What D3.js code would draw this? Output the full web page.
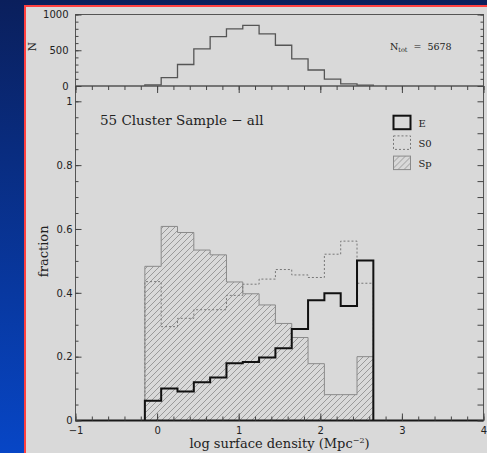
<!DOCTYPE html>
<html>
<head>
<meta charset="utf-8">
<script src="https://cdn.jsdelivr.net/npm/d3@7"></script>
<style>
body { margin: 0; background: #06205e; }
svg { display: block; }
</style>
</head>
<body>
<svg id="chart" width="487" height="453"></svg>
<script>
// bins in log surface density, width 0.2
var binEdges = [-0.15, 0.05, 0.25, 0.45, 0.65, 0.85, 1.05, 1.25, 1.45, 1.65, 1.85, 2.05, 2.25, 2.45, 2.65];
var nCounts = [16, 118, 301, 518, 690, 800, 847, 728, 570, 378, 224, 96, 30, 12];
var fracE = [0.062, 0.100, 0.091, 0.120, 0.135, 0.179, 0.183, 0.197, 0.226, 0.287, 0.377, 0.399, 0.359, 0.501];
var fracS0 = [0.435, 0.294, 0.320, 0.347, 0.347, 0.392, 0.427, 0.443, 0.473, 0.456, 0.448, 0.521, 0.562, 0.430];
var fracSp = [0.483, 0.608, 0.589, 0.534, 0.519, 0.434, 0.397, 0.362, 0.304, 0.260, 0.178, 0.081, 0.081, 0.200];
var xTicks = [-1, 0, 1, 2, 3, 4];
var nTicks = [0, 500, 1000];
var fracTicks = [0, 0.2, 0.4, 0.6, 0.8, 1];
var legendNames = ['E', 'S0', 'Sp'];
var nTotal = 5678;

var svg = d3.select('#chart');
var defs = svg.append('defs');

var grad = defs.append('linearGradient')
    .attr('id', 'bg')
    .attr('x1', 0).attr('y1', 0).attr('x2', 0).attr('y2', 1);
grad.append('stop').attr('offset', '0%').attr('stop-color', '#0a1f5c');
grad.append('stop').attr('offset', '100%').attr('stop-color', '#0746c6');

var hatch = defs.append('pattern')
    .attr('id', 'hatch')
    .attr('patternUnits', 'userSpaceOnUse')
    .attr('width', 6).attr('height', 6);
hatch.append('path')
    .attr('d', 'M0,6 L6,0 M-1,1 L1,-1 M5,7 L7,5')
    .attr('stroke', '#8a8a8a')
    .attr('stroke-width', 0.8);

svg.append('rect').attr('width', 487).attr('height', 453).attr('fill', 'url(#bg)');
svg.append('rect')
    .attr('x', 25).attr('y', 6)
    .attr('width', 480).attr('height', 470)
    .attr('fill', '#d9d9d9')
    .attr('stroke', '#ff4040')
    .attr('stroke-width', 2);

var x = d3.scaleLinear().domain([-1, 4]).range([75.5, 483.5]);
var yN = d3.scaleLinear().domain([0, 1000]).range([86, 14.5]);
var yF = d3.scaleLinear().domain([0, 1]).range([420.5, 101.3]);

function steps(vals) {
    var pts = [[binEdges[0], 0]];
    vals.forEach(function (v, i) {
        pts.push([binEdges[i], v]);
        pts.push([binEdges[i + 1], v]);
    });
    pts.push([binEdges[binEdges.length - 1], 0]);
    return pts;
}

var lineN = d3.line().x(function (d) { return x(d[0]); }).y(function (d) { return yN(d[1]); });
var lineF = d3.line().x(function (d) { return x(d[0]); }).y(function (d) { return yF(d[1]); });

// --- top panel: number of galaxies
svg.append('path')
    .attr('d', lineN(steps(nCounts)))
    .attr('fill', 'none')
    .attr('stroke', '#555')
    .attr('stroke-width', 1.3);

// --- bottom panel: morphological fractions
svg.append('path')
    .attr('d', lineF(steps(fracSp)))
    .attr('fill', 'url(#hatch)')
    .attr('stroke', '#8a8a8a')
    .attr('stroke-width', 1);

svg.append('path')
    .attr('d', lineF(steps(fracS0)))
    .attr('fill', 'none')
    .attr('stroke', '#777')
    .attr('stroke-width', 1)
    .attr('stroke-dasharray', '2,2');

svg.append('path')
    .attr('d', lineF(steps(fracE)))
    .attr('fill', 'none')
    .attr('stroke', '#111')
    .attr('stroke-width', 2);

// frames
svg.append('rect')
    .attr('x', x(-1)).attr('y', yN(1000))
    .attr('width', x(4) - x(-1)).attr('height', yN(0) - yN(1000))
    .attr('fill', 'none').attr('stroke', '#555').attr('stroke-width', 1);
svg.append('rect')
    .attr('x', x(-1)).attr('y', yN(0))
    .attr('width', x(4) - x(-1)).attr('height', yF(0) - yN(0))
    .attr('fill', 'none').attr('stroke', '#555').attr('stroke-width', 1);
svg.append('line')
    .attr('x1', x(-1)).attr('x2', x(4))
    .attr('y1', yF(0)).attr('y2', yF(0))
    .attr('stroke', '#1a1a1a').attr('stroke-width', 1.8);

function styleAxis(g) {
    g.select('.domain').remove();
    g.selectAll('.tick line').attr('stroke', '#444');
    g.selectAll('.tick text')
        .attr('fill', '#222')
        .style('font-family', '"DejaVu Sans", sans-serif')
        .style('font-size', '10px');
}

var fmt = function (d) { return d3.format('~g')(d); };
var noLabel = function () { return ''; };

// top panel axes
svg.append('g').attr('transform', 'translate(' + x(-1) + ',0)')
    .call(d3.axisLeft(yN).tickValues(d3.range(0, 1001, 100)).tickSize(-3).tickFormat(noLabel)).call(styleAxis);
svg.append('g').attr('transform', 'translate(' + x(-1) + ',0)')
    .call(d3.axisLeft(yN).tickValues(nTicks).tickSize(-6).tickPadding(7).tickFormat(fmt)).call(styleAxis);
svg.append('g').attr('transform', 'translate(' + x(4) + ',0)')
    .call(d3.axisRight(yN).tickValues(d3.range(0, 1001, 100)).tickSize(-3).tickFormat(noLabel)).call(styleAxis);
svg.append('g').attr('transform', 'translate(' + x(4) + ',0)')
    .call(d3.axisRight(yN).tickValues(nTicks).tickSize(-6).tickFormat(noLabel)).call(styleAxis);

// bottom panel axes
var fracMinor = d3.range(0, 1.0001, 0.05);
var xMinor = d3.range(-1, 4.001, 0.2);
svg.append('g').attr('transform', 'translate(' + x(-1) + ',0)')
    .call(d3.axisLeft(yF).tickValues(fracMinor).tickSize(-3).tickFormat(noLabel)).call(styleAxis);
svg.append('g').attr('transform', 'translate(' + x(-1) + ',0)')
    .call(d3.axisLeft(yF).tickValues(fracTicks).tickSize(-6).tickPadding(3).tickFormat(fmt)).call(styleAxis);
svg.append('g').attr('transform', 'translate(' + x(4) + ',0)')
    .call(d3.axisRight(yF).tickValues(fracMinor).tickSize(-6).tickFormat(noLabel)).call(styleAxis);
svg.append('g').attr('transform', 'translate(0,' + yF(0) + ')')
    .call(d3.axisBottom(x).tickValues(xMinor).tickSize(-4).tickFormat(noLabel)).call(styleAxis);
svg.append('g').attr('transform', 'translate(0,' + yF(0) + ')')
    .call(d3.axisBottom(x).tickValues(xTicks).tickSize(-7).tickPadding(6).tickFormat(fmt)).call(styleAxis);
svg.append('g').attr('transform', 'translate(0,' + yN(0) + ')')
    .call(d3.axisTop(x).tickValues(xMinor).tickSize(-4).tickFormat(noLabel)).call(styleAxis);
svg.append('g').attr('transform', 'translate(0,' + yN(0) + ')')
    .call(d3.axisTop(x).tickValues(xTicks).tickSize(-7).tickFormat(noLabel)).call(styleAxis);

// texts
var serif = '"DejaVu Serif", serif';
svg.append('text')
    .attr('transform', 'translate(48,' + yF(0.53) + ') rotate(-90)')
    .attr('text-anchor', 'middle')
    .style('font-family', serif).style('font-size', '13px').attr('fill', '#222')
    .text('fraction');
svg.append('text')
    .attr('transform', 'translate(36,' + yN(550) + ') rotate(-90)')
    .attr('text-anchor', 'middle')
    .style('font-family', serif).style('font-size', '10.5px').attr('fill', '#222')
    .text('N');

var xl = svg.append('text')
    .attr('x', x(1.5)).attr('y', 448)
    .attr('text-anchor', 'middle')
    .style('font-family', serif).style('font-size', '13px').attr('fill', '#222');
xl.append('tspan').text('log surface density (Mpc');
xl.append('tspan').attr('dy', -5).style('font-size', '8px').text('−2');
xl.append('tspan').attr('dy', 5).text(')');

svg.append('text')
    .attr('x', 100).attr('y', 125)
    .style('font-family', serif).style('font-size', '13.5px').attr('fill', '#222')
    .text('55 Cluster Sample − all');

var nt = svg.append('text')
    .attr('x', 390).attr('y', 50)
    .style('font-family', serif).style('font-size', '9.5px').attr('fill', '#222');
nt.append('tspan').text('N');
nt.append('tspan').attr('dy', 2).style('font-size', '6.5px').text('tot');
nt.append('tspan').attr('dy', -2).attr('xml:space', 'preserve').text('  =  ' + nTotal);

// legend
var legStyles = [
    { stroke: '#111', width: 2, dash: null, fill: 'none' },
    { stroke: '#777', width: 1, dash: '2,2', fill: 'none' },
    { stroke: '#8a8a8a', width: 1, dash: null, fill: 'url(#hatch)' }
];
var leg = svg.append('g').selectAll('g').data(legendNames).enter().append('g')
    .attr('transform', function (d, i) { return 'translate(393.5,' + (115.7 + i * 20.2) + ')'; });
leg.append('rect')
    .attr('width', 17).attr('height', 13.5)
    .attr('fill', function (d, i) { return legStyles[i].fill; })
    .attr('stroke', function (d, i) { return legStyles[i].stroke; })
    .attr('stroke-width', function (d, i) { return legStyles[i].width; })
    .attr('stroke-dasharray', function (d, i) { return legStyles[i].dash; });
leg.append('text')
    .attr('x', 25).attr('y', 11)
    .style('font-family', serif).style('font-size', '10px').attr('fill', '#222')
    .text(function (d) { return d; });
</script>
</body>
</html>
